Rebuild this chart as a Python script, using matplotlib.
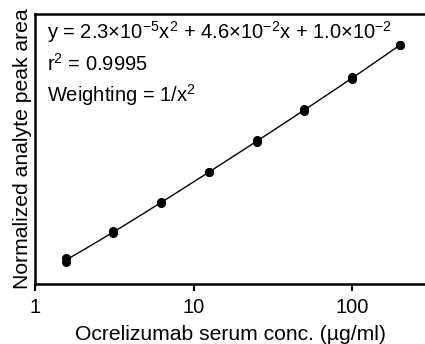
import matplotlib
matplotlib.use("Agg")
import matplotlib.pyplot as plt
import numpy as np

plt.rcParams['font.family'] = ['Liberation Sans', 'DejaVu Sans']
plt.rcParams['mathtext.fontset'] = 'custom'
plt.rcParams['mathtext.rm'] = 'Liberation Sans'
plt.rcParams['mathtext.it'] = 'Liberation Sans:italic'

# calibration standards (ug/ml) and two replicate responses
conc = [1.5625, 3.125, 6.25, 12.5, 25, 50, 100, 200]
rep1 = [0.079, 0.150, 0.295, 0.585, 1.15, 2.32, 4.75, 10.1]
rep2 = [0.085, 0.157, 0.302, 0.592, 1.20, 2.42, 4.95, 10.2]

# fitted quadratic: a*x^2 + b*x + c
coef = [2.3e-5, 4.6e-2, 1.0e-2]

fig = plt.figure(figsize=(4.25, 3.44), dpi=100)
ax = fig.add_axes([35/425, 60/344, 390/425, 270/344])

xfit = np.logspace(np.log10(conc[0]), np.log10(conc[-1]), 200)
ax.plot(xfit, np.polyval(coef, xfit), color='black', lw=1.0)
ax.plot(conc, rep1, 'o', color='black', ms=5.5)
ax.plot(conc, rep2, 'o', color='black', ms=5.5)

ax.set_xscale('log')
ax.set_yscale('log')
ax.set_xlim(1, 288)
ax.set_ylim(0.048, 20.3)
ax.set_xticks([1, 10, 100])
ax.set_xticklabels(['1', '10', '100'])
ax.xaxis.set_minor_locator(matplotlib.ticker.NullLocator())
ax.yaxis.set_minor_locator(matplotlib.ticker.NullLocator())
ax.set_yticks([])
ax.tick_params(axis='x', direction='out', length=5, width=1.5, labelsize=14.5, pad=5)
for s in ['left', 'top', 'bottom']:
    ax.spines[s].set_linewidth(1.8)
ax.spines['right'].set_visible(False)

ax.set_xlabel('Ocrelizumab serum conc. (\u00b5g/ml)', fontsize=15.2, labelpad=6)
ax.set_ylabel('Normalized analyte peak area', fontsize=15.2, labelpad=2)

txt = ('y = 2.3\u00d710$^{\\mathregular{-5}}$x$^{\\mathregular{2}}$ + '
       '4.6\u00d710$^{\\mathregular{-2}}$x + 1.0\u00d710$^{\\mathregular{-2}}$\n'
       'r$^{\\mathregular{2}}$ = 0.9995\n'
       'Weighting = 1/x$^{\\mathregular{2}}$')
ax.text(0.03, 0.98, txt, transform=ax.transAxes, fontsize=14.5,
        va='top', ha='left', linespacing=1.4)

fig.savefig('out.png', dpi=100)
